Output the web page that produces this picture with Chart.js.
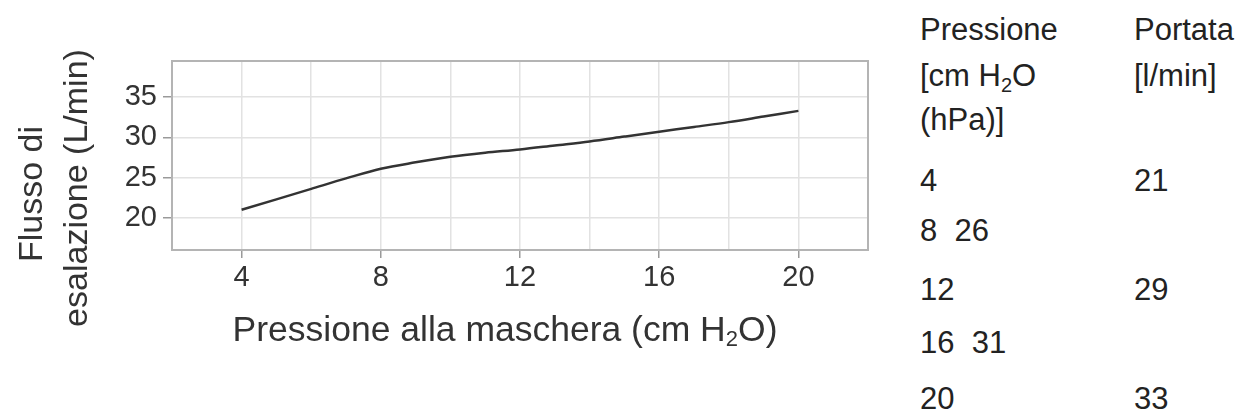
<!DOCTYPE html>
<html>
<head>
<meta charset="utf-8">
<script src="https://cdn.jsdelivr.net/npm/chart.js@4"></script>
<style>
  body { margin: 0; background: #fff; width: 1243px; height: 418px; overflow: hidden; position: relative; }
  #chartBox { position: absolute; left: 0; top: 0; width: 880px; height: 418px; }
  .title { position: absolute; font-family: "Liberation Sans", Arial, sans-serif; line-height: 1; color: #333; white-space: nowrap; }
  .ytitle { font-size: 34px; transform: translate(-50%, -50%) rotate(-90deg); }
  .xtitle { font-size: 35.5px; transform: translate(-50%, -50%); }
  .xtitle sub { font-size: 22px; vertical-align: -5px; line-height: 0; }
  .tab { position: absolute; font-family: "Liberation Sans", Arial, sans-serif; font-size: 31px; line-height: 1; color: #222; white-space: pre; }
  .tab sub { font-size: 20px; vertical-align: -6px; line-height: 0; }
</style>
</head>
<body>
<div id="chartBox"><canvas id="myChart"></canvas></div>
<div class="title ytitle" style="left:30px;top:194px">Flusso di</div>
<div class="title ytitle" style="left:75px;top:188px">esalazione (L/min)</div>
<div class="title xtitle" style="left:505px;top:330px">Pressione alla maschera (cm H<sub>2</sub>O)</div>
<div id="table"></div>
<script>
// pressione alla maschera (cm H2O) / flusso di esalazione (L/min)
var pressure = [4, 5, 6, 7, 8, 9, 10, 11, 12, 13, 14, 15, 16, 17, 18, 19, 20];
var flow = [21, 22.3, 23.6, 24.9, 26.1, 26.9, 27.6, 28.1, 28.5, 29.0, 29.5, 30.1, 30.7, 31.3, 31.9, 32.6, 33.3];

var xGrid = [2, 4, 6, 8, 10, 12, 14, 16, 18, 20, 22];
var xLabels = [4, 8, 12, 16, 20];
var yTicks = [20, 25, 30, 35];

// tabella a destra
var tabPressure = [4, 8, 12, 16, 20];
var tabFlow = [21, 26, 29, 31, 33];

var lineColor = '#333333';
var gridColor = '#e2e2e2';
var frameColor = '#b4b4b4';
var tickText = '#333333';

var points = pressure.map(function (p, i) { return { x: p, y: flow[i] }; });

var frame = {
    id: 'frame',
    afterDraw: function (chart) {
        var a = chart.chartArea, c = chart.ctx;
        c.save();
        c.strokeStyle = frameColor;
        c.lineWidth = 2;
        c.strokeRect(a.left, a.top, a.right - a.left, a.bottom - a.top);
        c.restore();
    }
};

var ctx = document.getElementById('myChart');
var myChart = new Chart(ctx, {
    type: 'line',
    data: {
        datasets: [{
            data: points,
            borderColor: lineColor,
            borderWidth: 2.5,
            pointRadius: 0,
            cubicInterpolationMode: 'monotone'
        }]
    },
    options: {
        responsive: true,
        maintainAspectRatio: false,
        animation: false,
        layout: {
            padding: { top: 61, right: 12, left: 0, bottom: 68 }
        },
        plugins: {
            legend: { display: false },
            tooltip: { enabled: false }
        },
        scales: {
            x: {
                type: 'linear',
                min: 2,
                max: 22,
                afterBuildTicks: function (s) { s.ticks = xGrid.map(function (v) { return { value: v }; }); },
                afterFit: function (s) { s.height = 100; },
                border: { display: false },
                grid: {
                    color: gridColor,
                    lineWidth: 1.5,
                    tickLength: 8,
                    tickColor: function (c) { return xLabels.indexOf(c.tick.value) >= 0 ? '#9a9a9a' : 'rgba(0,0,0,0)'; }
                },
                ticks: {
                    autoSkip: false,
                    maxRotation: 0,
                    padding: 3,
                    color: tickText,
                    font: { family: 'Liberation Sans', size: 29 },
                    callback: function (v) { return xLabels.indexOf(v) >= 0 ? String(v) : ''; }
                }
            },
            y: {
                min: 16,
                max: 39.5,
                afterBuildTicks: function (s) { s.ticks = yTicks.map(function (v) { return { value: v }; }); },
                afterFit: function (s) { s.width = 172; },
                border: { display: false },
                grid: {
                    color: gridColor,
                    lineWidth: 1.5,
                    tickLength: 9,
                    tickColor: '#9a9a9a'
                },
                ticks: {
                    padding: 6,
                    color: tickText,
                    font: { family: 'Liberation Sans', size: 29 }
                }
            }
        }
    },
    plugins: [frame]
});

// tabella: righe come nell'originale
var rows = [
    { t: 14, a: 'Pressione', b: 'Portata' },
    { t: 60, a: '[cm H<sub>2</sub>O', b: '[l/min]' },
    { t: 104, a: '(hPa)]', b: '' },
    { t: 165, a: String(tabPressure[0]), b: String(tabFlow[0]) },
    { t: 215, a: tabPressure[1] + '  ' + tabFlow[1], b: '' },
    { t: 274, a: String(tabPressure[2]), b: String(tabFlow[2]) },
    { t: 327, a: tabPressure[3] + '  ' + tabFlow[3], b: '' },
    { t: 383, a: String(tabPressure[4]), b: String(tabFlow[4]) }
];
var html = '';
rows.forEach(function (r) {
    html += '<div class="tab" style="left:920px;top:' + r.t + 'px">' + r.a + '</div>';
    if (r.b) html += '<div class="tab" style="left:1134px;top:' + r.t + 'px">' + r.b + '</div>';
});
document.getElementById('table').innerHTML = html;
</script>
</body>
</html>
